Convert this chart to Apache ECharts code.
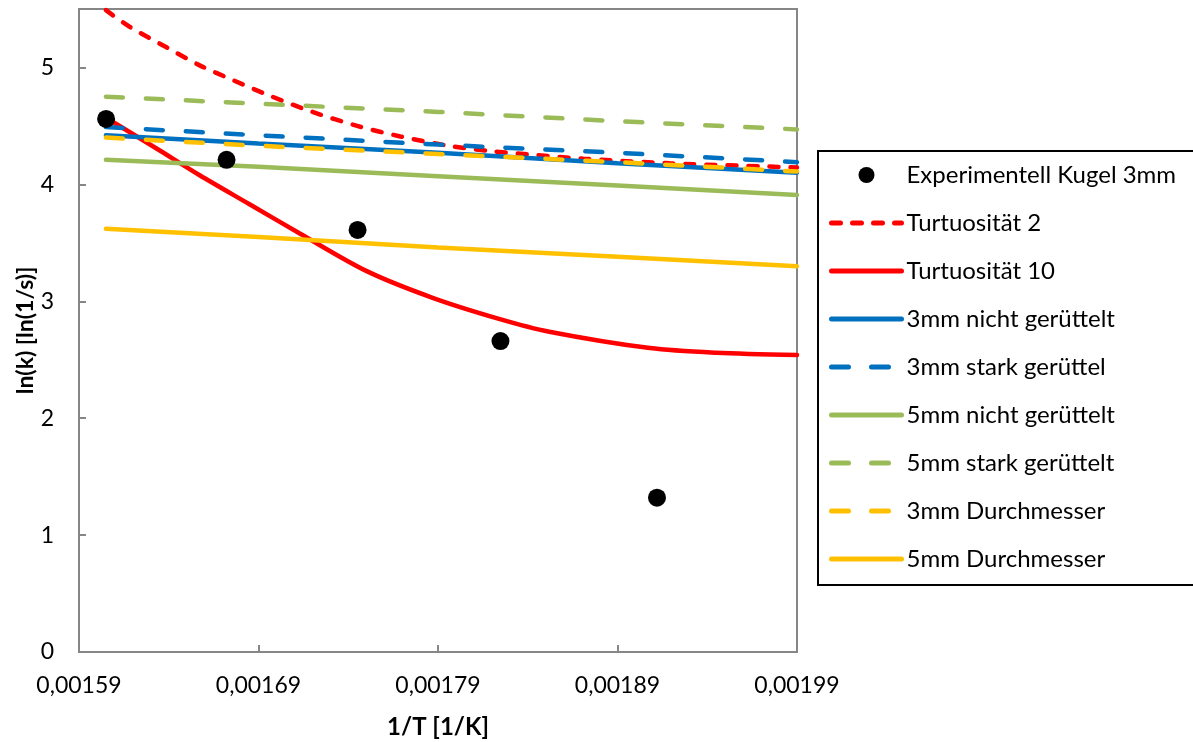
<!DOCTYPE html>
<html>
<head>
<meta charset="utf-8">
<script src="https://cdn.jsdelivr.net/npm/echarts@6/dist/echarts.min.js"></script>
<style>
  html, body { margin: 0; padding: 0; background: #fff; }
  #chart { width: 1193px; height: 742px; }
</style>
</head>
<body>
<div id="chart"></div>
<script>
// Experimental rate constants (3 mm spheres), x = 1/T [1/K], y = ln(k)
const expX = [0.0016051, 0.0016722, 0.0017452, 0.0018248, 0.0019120];
const expY = [4.56, 4.21, 3.61, 2.66, 1.32];

// Model curves, tortuosity 2 and 10
const tort2X = [0.001605, 0.001618, 0.001639, 0.001657, 0.001676, 0.001696, 0.001720, 0.001745, 0.001769, 0.001796, 0.001819, 0.001845, 0.001871, 0.001919, 0.00199];
const tort2Y = [5.49, 5.35, 5.17, 5.02, 4.89, 4.76, 4.62, 4.50, 4.41, 4.33, 4.285, 4.25, 4.22, 4.18, 4.145];
const tort10X = [0.001605, 0.001635, 0.001657, 0.001685, 0.001713, 0.001750, 0.001787, 0.001824, 0.001852, 0.001908, 0.001945, 0.00199];
const tort10Y = [4.57, 4.29, 4.08, 3.83, 3.58, 3.26, 3.03, 2.85, 2.74, 2.60, 2.56, 2.54];

// Packed-bed model lines, sampled at the same 1/T positions
const bedX = [0.001605, 0.00169, 0.00179, 0.00189, 0.00199];
const mm3Loose = [4.42, 4.35, 4.27, 4.18, 4.10];
const mm3Shaken = [4.49, 4.42, 4.34, 4.27, 4.19];
const mm5Loose = [4.21, 4.15, 4.07, 3.99, 3.91];
const mm5Shaken = [4.75, 4.69, 4.62, 4.54, 4.47];
const mm3Diam = [4.40, 4.33, 4.26, 4.19, 4.11];
const mm5Diam = [3.62, 3.55, 3.46, 3.38, 3.30];

// x axis: 0.00159 … 0.00199 in steps of 0.0001
const xStart = 0.00159;
const xStep = 0.0001;
const xSteps = 4;

const FONT = 'Lato';
const toU = x => (x - xStart) / xStep;
const pairs = (xs, ys) => xs.map((x, i) => [toU(x), ys[i]]);

const SHORT_DASH = [9, 12];
const LONG_DASH = [17, 23];

function lineSeries(name, xs, ys, color, dash, smooth) {
  return {
    name: name,
    type: 'line',
    data: pairs(xs, ys),
    symbol: 'none',
    smooth: smooth ? 0.3 : false,
    lineStyle: { color: color, width: 4.5, type: dash || 'solid', cap: 'round' },
    itemStyle: { color: color },
    z: 2
  };
}

const chart = echarts.init(document.getElementById('chart'), null, { renderer: 'canvas' });

chart.setOption({
  animation: false,
  backgroundColor: '#fff',
  textStyle: { fontFamily: FONT },
  grid: {
    left: 79, right: 396, top: 9, bottom: 90,
    containLabel: false,
    outerBoundsMode: 'none',
    show: true, borderColor: '#868686', borderWidth: 2, backgroundColor: 'transparent'
  },
  // legend frame, running off the right edge of the canvas
  graphic: [{
    type: 'rect',
    left: 817, top: 150,
    shape: { width: 420, height: 434 },
    style: { fill: '#fff', stroke: '#000', lineWidth: 2 },
    z: 0
  }],
  xAxis: {
    type: 'value',
    min: 0, max: xSteps, interval: 1,
    name: '1/T [1/K]',
    nameLocation: 'middle',
    nameGap: 63,
    nameMoveOverlap: false,
    nameTextStyle: { fontFamily: FONT, fontSize: 24, fontWeight: 'bold', color: '#000' },
    axisLine: { lineStyle: { color: '#868686', width: 2 } },
    axisTick: { show: true, inside: true, length: 7, lineStyle: { color: '#868686', width: 2 } },
    axisLabel: {
      fontFamily: FONT, fontSize: 23, color: '#000', margin: 22,
      formatter: v => (xStart + v * xStep).toFixed(5).replace('.', ',')
    },
    splitLine: { show: false }
  },
  yAxis: {
    type: 'value',
    min: 0, max: 5.5, interval: 1,
    name: 'ln(k) [ln(1/s)]',
    nameLocation: 'middle',
    nameGap: 42,
    nameMoveOverlap: false,
    nameRotate: 90,
    nameTextStyle: { fontFamily: FONT, fontSize: 23, fontWeight: 'bold', color: '#000' },
    axisLine: { show: true, lineStyle: { color: '#868686', width: 2 } },
    axisTick: { show: true, inside: true, length: 7, lineStyle: { color: '#868686', width: 2 } },
    axisLabel: {
      fontFamily: FONT, fontSize: 23, color: '#000', margin: 25,
      formatter: v => (Math.abs(v - Math.round(v)) < 1e-9 ? String(Math.round(v)) : '')
    },
    splitLine: { show: false }
  },
  legend: {
    orient: 'vertical',
    left: 817, top: 150,
    padding: [13, 20, 12, 12],
    borderWidth: 0,
    itemWidth: 70, itemHeight: 16, itemGap: 24,
    itemStyle: { opacity: 0 },
    lineStyle: { width: 5, cap: 'round' },
    textStyle: { fontFamily: FONT, fontSize: 24, color: '#000' },
    z: 4,
    data: [
      { name: 'Experimentell Kugel 3mm', itemStyle: { opacity: 1 } },
      'Turtuosität 2', 'Turtuosität 10',
      '3mm nicht gerüttelt', '3mm stark gerüttel', '5mm nicht gerüttelt',
      '5mm stark gerüttelt', '3mm Durchmesser', '5mm Durchmesser'
    ]
  },
  series: [
    {
      name: 'Experimentell Kugel 3mm',
      type: 'scatter',
      data: pairs(expX, expY),
      symbol: 'circle',
      symbolSize: 18,
      itemStyle: { color: '#000', opacity: 1 },
      z: 5
    },
    lineSeries('Turtuosität 2', tort2X, tort2Y, '#ff0000', SHORT_DASH, true),
    lineSeries('Turtuosität 10', tort10X, tort10Y, '#ff0000', 'solid', true),
    lineSeries('3mm nicht gerüttelt', bedX, mm3Loose, '#0070c0', 'solid'),
    lineSeries('3mm stark gerüttel', bedX, mm3Shaken, '#0070c0', LONG_DASH),
    lineSeries('5mm nicht gerüttelt', bedX, mm5Loose, '#9bbb59', 'solid'),
    lineSeries('5mm stark gerüttelt', bedX, mm5Shaken, '#9bbb59', LONG_DASH),
    lineSeries('3mm Durchmesser', bedX, mm3Diam, '#ffc000', LONG_DASH),
    lineSeries('5mm Durchmesser', bedX, mm5Diam, '#ffc000', 'solid')
  ]
});
</script>
</body>
</html>
